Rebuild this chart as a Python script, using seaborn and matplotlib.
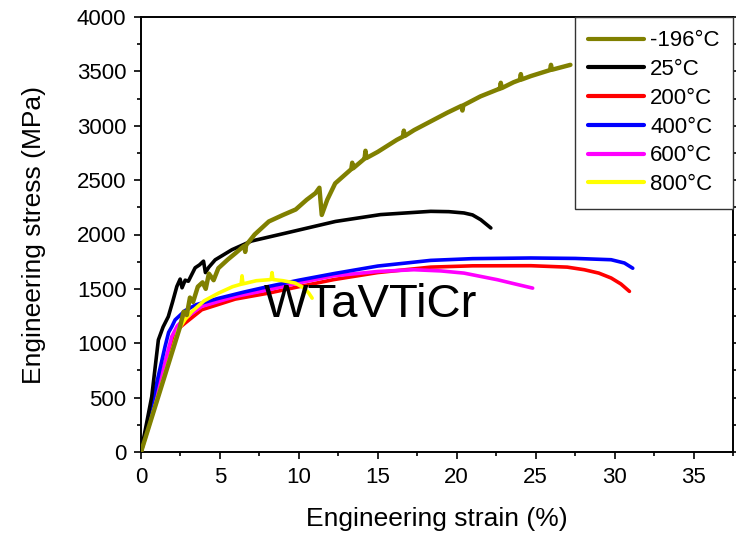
import matplotlib
matplotlib.use("Agg")
import matplotlib.pyplot as plt
from matplotlib.ticker import MultipleLocator
from matplotlib.lines import Line2D
import seaborn as sns
import pandas as pd

# ---- data ----
labels = ["-196°C", "25°C", "200°C", "400°C", "600°C", "800°C"]
colors = ["#808000", "#000000", "#ff0000", "#0000ff", "#ff00ff", "#ffff00"]

strain_m196 = [0, 2.45, 2.7, 2.9, 3.1, 3.3, 3.6, 3.9, 4.1, 4.3, 4.6, 4.9, 5.5, 6.0, 6.4,
               6.54, 6.6, 6.66, 7.2, 8.1, 9.0, 9.8, 10.5, 11.05, 11.3, 11.45, 11.8, 12.3, 13.0,
               13.32, 13.38, 13.44, 14.1, 14.16, 14.22, 14.28, 15.0, 16.2,
               16.59, 16.65, 16.71, 17.3, 18.35, 19.4, 20.3, 20.36, 20.42,
               21.5, 22.6, 22.73, 22.79, 22.85, 23.6, 24.0, 24.06, 24.12, 24.7,
               25.91, 25.97, 26.03, 27.2]
stress_m196 = [0, 1140, 1290, 1260, 1420, 1380, 1520, 1560, 1500, 1640, 1580, 1690, 1770, 1830,
               1880, 1895, 1840, 1902, 2000, 2120, 2180, 2230, 2320, 2380, 2430, 2180, 2320, 2470,
               2560, 2601, 2660, 2609, 2690, 2697, 2770, 2703, 2760, 2870,
               2900, 2955, 2906, 2960, 3040, 3120, 3183, 3140, 3188,
               3270, 3334, 3340, 3395, 3346, 3400, 3422, 3475, 3426, 3457,
               3512, 3560, 3515, 3560]

strain_25 = [0, 0.68, 1.1, 1.4, 1.73, 2.0, 2.27, 2.48, 2.6, 2.8, 3.0, 3.43, 3.7, 3.96, 4.08, 4.3,
             4.7, 5.76, 7.0, 9.14, 12.32, 15.17, 18.35, 19.5, 20.46, 21.0, 21.52, 22.16]
stress_25 = [0, 509, 1031, 1150, 1245, 1380, 1522, 1590, 1510, 1580, 1570, 1694, 1720, 1755, 1650,
             1700, 1767, 1860, 1940, 2012, 2120, 2183, 2213, 2210, 2198, 2180, 2136, 2060]

strain_200 = [0, 2.16, 2.5, 2.79, 3.85, 5.97, 8.08, 10.0, 12.2, 15.0, 18.35, 21.0, 24.7, 27.0,
              28.08, 29.0, 29.78, 30.4, 30.94]
stress_200 = [0, 1095, 1150, 1185, 1308, 1406, 1461, 1520, 1585, 1650, 1700, 1712, 1713, 1700,
              1676, 1645, 1600, 1545, 1477]

strain_400 = [0, 1.52, 1.75, 1.95, 2.16, 2.79, 3.5, 4.91, 6.5, 8.08, 10.0, 12.2, 15.0, 18.35,
              21.0, 24.7, 27.5, 29.78, 30.62, 31.15]
stress_400 = [0, 968, 1100, 1152, 1215, 1300, 1355, 1413, 1470, 1522, 1580, 1640, 1710, 1762,
              1778, 1784, 1780, 1768, 1738, 1690]

strain_600 = [0, 1.95, 2.3, 2.79, 3.85, 5.97, 8.08, 10.0, 12.2, 15.0, 17.29, 19.0, 20.46, 21.5,
              22.58, 23.7, 24.81]
stress_600 = [0, 1062, 1160, 1231, 1339, 1430, 1492, 1555, 1620, 1660, 1676, 1665, 1645, 1615,
              1584, 1545, 1507]

strain_800 = [0, 2.37, 2.8, 3.22, 4.0, 4.91, 5.8, 6.34, 6.4, 6.46, 7.3, 8.08, 8.24, 8.3, 8.36,
              9.0, 9.78, 10.3, 10.63, 10.84]
stress_800 = [0, 1123, 1220, 1291, 1390, 1461, 1520, 1543, 1620, 1546, 1575, 1584, 1586, 1650,
              1586, 1575, 1553, 1510, 1461, 1415]

x_ticks = [0, 5, 10, 15, 20, 25, 30, 35]
y_ticks = [0, 500, 1000, 1500, 2000, 2500, 3000, 3500, 4000]

series = [(strain_m196, stress_m196), (strain_25, stress_25), (strain_200, stress_200),
          (strain_400, stress_400), (strain_600, stress_600), (strain_800, stress_800)]
rows = []
for lab, (xs, ys) in zip(labels, series):
    for xv, yv in zip(xs, ys):
        rows.append({"strain": xv, "stress": yv, "T": lab})
df = pd.DataFrame(rows)

sns.set_theme(style="ticks")
plt.rcParams["font.family"] = ["Liberation Sans", "DejaVu Sans"]
plt.rcParams["text.color"] = "black"
plt.rcParams["axes.labelcolor"] = "black"
plt.rcParams["xtick.color"] = "black"
plt.rcParams["ytick.color"] = "black"

fig = plt.figure(figsize=(7.36, 5.34), dpi=100)
ax = fig.add_axes([141 / 736, 1 - 452 / 534, (733 - 141) / 736, (452 - 17) / 534])

sns.lineplot(data=df, x="strain", y="stress", hue="T", hue_order=labels,
             palette=dict(zip(labels, colors)), sort=False, estimator=None, units="T",
             linewidth=2.6, ax=ax, legend=False)

zorders = {"-196°C": 8, "25°C": 7, "200°C": 3, "400°C": 5, "600°C": 4, "800°C": 6}
for line, lab in zip(ax.lines, labels):
    line.set_zorder(zorders[lab])
    line.set_solid_joinstyle("round")
    if lab == "-196°C":
        line.set_linewidth(3.2)

ax.set_xlim(0, 37.5)
ax.set_ylim(0, 4000)
ax.set_xticks(x_ticks)
ax.set_yticks(y_ticks)
ax.xaxis.set_minor_locator(MultipleLocator(2.5))
ax.yaxis.set_minor_locator(MultipleLocator(250))
ax.tick_params(which="major", direction="out", length=5, width=1.2, labelsize=16,
               color="black", labelcolor="black", right=True, top=False, pad=5.5)
ax.tick_params(which="minor", direction="out", length=3, width=1.2, right=True, top=False)
for sp in ax.spines.values():
    sp.set_visible(True)
    sp.set_linewidth(1.4)
    sp.set_color("black")

ax.set_xlabel("Engineering strain (%)", fontsize=19, labelpad=14)
ax.set_ylabel("Engineering stress (MPa)", fontsize=19, labelpad=22)

ax.text(7.75, 1241, "WTaVTiCr", fontsize=34, ha="left", va="baseline", color="black", zorder=10)

handles = [Line2D([0], [0], color=c, lw=3) for c in colors]
leg = ax.legend(handles, labels, loc="upper right", bbox_to_anchor=(1, 1), borderaxespad=0,
                fontsize=16, handlelength=2.5, handletextpad=0.3, labelspacing=0.35,
                borderpad=0.6, frameon=True, fancybox=False, edgecolor="#333333",
                framealpha=1)
leg.get_frame().set_linewidth(1.0)
leg.set_zorder(20)

fig.savefig("out.png", dpi=100)
